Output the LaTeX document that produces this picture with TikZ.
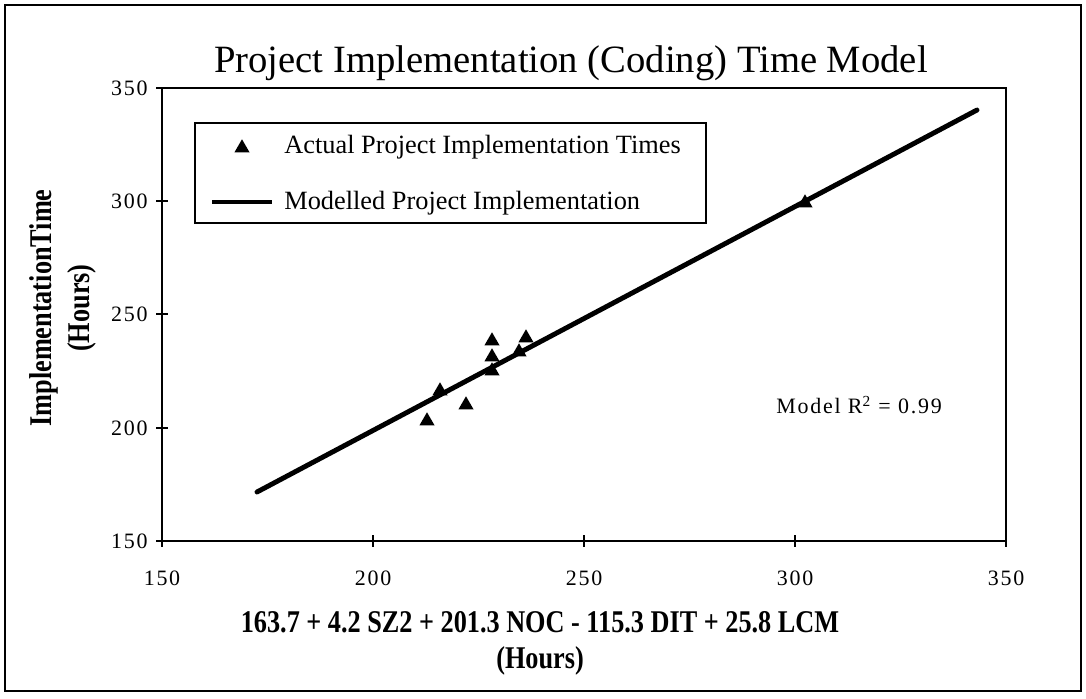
\documentclass[tikz,border=0pt]{standalone}
\usepackage{fontspec}
\setmainfont{Liberation Serif}
\newfontfamily\condfont[FakeStretch=0.83]{Liberation Serif}
\newfontfamily\spacedfont[LetterSpace=8]{Liberation Serif}
\usetikzlibrary{shapes.geometric}
\begin{document}
\begin{tikzpicture}[x=0.02cm,y=-0.02cm,
  frame/.style={draw=black,line width=0.8pt},
  axisbox/.style={draw=black,line width=1pt},
  ticklbl/.style={font=\spacedfont\fontsize{12.5}{14}\selectfont,inner sep=0pt},
  tri/.style={regular polygon,regular polygon sides=3,fill=black,draw=none,minimum size=0.35cm,inner sep=0pt},
  fitline/.style={line width=2.8pt,line cap=round},
  legtext/.style={font=\fontsize{15}{17}\selectfont,anchor=west,inner sep=0pt},
  axtitle/.style={font=\condfont\bfseries\fontsize{18}{20}\selectfont,inner sep=0pt,align=center}
]
\useasboundingbox (0,0) rectangle (1086,698);
% outer frame
\draw[frame] (5,5) rectangle (1081,691);
% title
\node[font=\fontsize{22}{24}\selectfont,anchor=base,inner sep=0pt] (title) at (571,72) {Project Implementation (Coding) Time Model};
% plot area
\draw[axisbox] (162,88) rectangle (1006,541);
% y ticks and labels
\foreach \v/\py in {350/88,300/201,250/314,200/428,150/541}{
  \draw[line width=0.8pt] (156,\py) -- (168,\py);
  \node[ticklbl,anchor=east] (yl\v) at (148,\py) {\v};
}
% x ticks and labels
\foreach \v/\px in {150/162,200/373,250/584,300/795,350/1006}{
  \draw[line width=0.8pt] (\px,535) -- (\px,547);
  \node[ticklbl] (xl\v) at (\px,578) {\v};
}
% axis titles
\node[axtitle,rotate=90] (ytitle) at (44,308) {ImplementationTime};
\node[axtitle,rotate=90] (ytitle2) at (82,308) {(Hours)};
\node[axtitle] (xtitle) at (540,622) {163.7 + 4.2 SZ2 + 201.3 NOC - 115.3 DIT + 25.8 LCM};
\node[axtitle] (xtitle2) at (540,661) {(Hours)};
% legend
\draw[line width=0.8pt] (195,123) rectangle (706,223);
\node[tri] (legtri) at (242,148) {};
\node[legtext] (legA) at (284,147) {Actual Project Implementation Times};
\coordinate (legL1) at (212,202);
\coordinate (legL2) at (272,202);
\draw[line width=2.8pt] (legL1) -- (legL2);
\node[legtext] (legB) at (284,203) {Modelled Project Implementation};
% fitted line
\coordinate (L1) at (257,492);
\coordinate (L2) at (977,110);
\draw[fitline] (L1) -- (L2);
% data points
\node[tri] (p1) at (427,421) {};
\node[tri] (p2) at (440,391) {};
\node[tri] (p3) at (466,405) {};
\node[tri] (p4) at (492,341) {};
\node[tri] (p5) at (492,357) {};
\node[tri] (p6) at (492,371) {};
\node[tri] (p7) at (519,352) {};
\node[tri] (p8) at (526,338) {};
\node[tri] (p9) at (805,203) {};
% R squared
\node[font=\spacedfont\fontsize{12.5}{14}\selectfont,anchor=west,inner sep=0pt] (rsq) at (776,405) {Model R\textsuperscript{2} = 0.99};
\end{tikzpicture}
\end{document}
